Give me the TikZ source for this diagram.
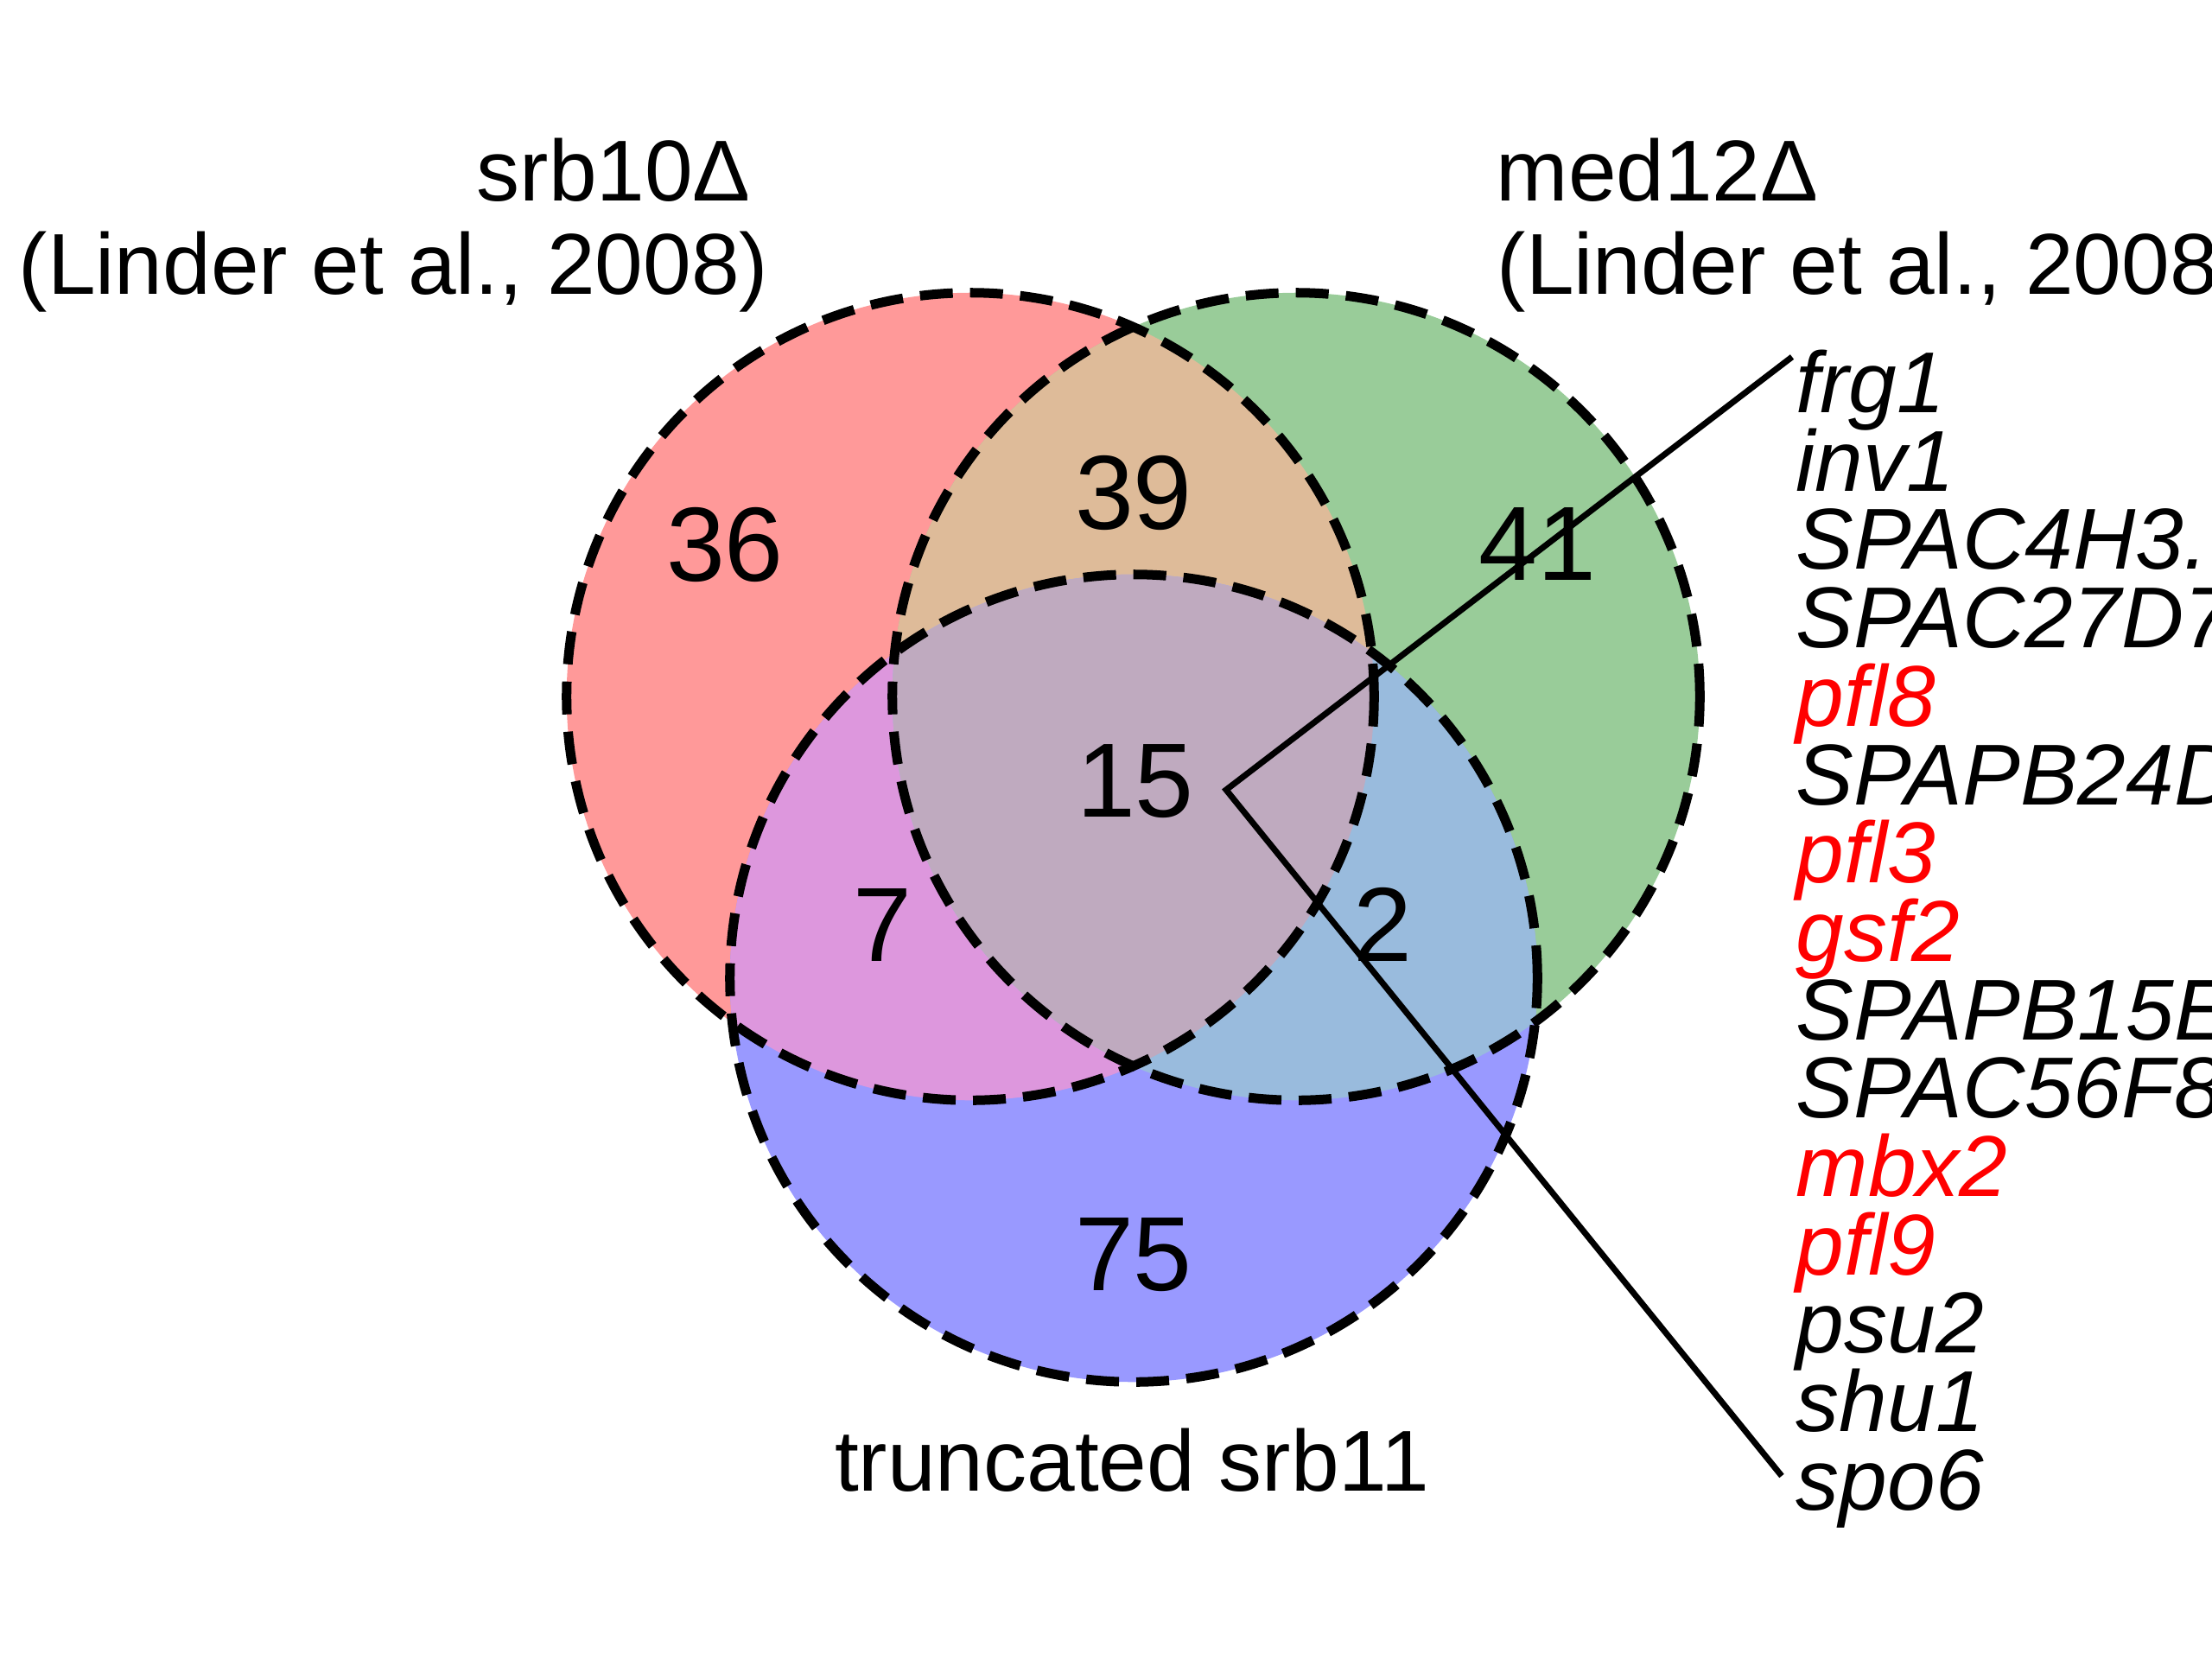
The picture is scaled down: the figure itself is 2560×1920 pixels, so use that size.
\documentclass[tikz,border=0pt]{standalone}
\usepackage{fontspec}
\setmainfont{Liberation Sans}
\usetikzlibrary{positioning}

\definecolor{setA}{HTML}{FF9999}
\definecolor{setB}{HTML}{99CC99}
\definecolor{setC}{HTML}{9999FF}
\definecolor{setAB}{HTML}{DEBB99}
\definecolor{setAC}{HTML}{DD97DD}
\definecolor{setBC}{HTML}{99BBDD}
\definecolor{setABC}{HTML}{BFAABF}
\def\rad{4.67cm}

\tikzset{
	ring/.style={line width=0.11cm, dash pattern=on 0.38cm off 0.2cm},
	count/.style={font=\fontsize{34.7}{40}\selectfont},
	setname/.style={font=\fontsize{28.45}{32}\selectfont, inner sep=0pt, anchor=base west},
	gene/.style={font=\fontsize{28.45}{32}\selectfont\itshape, inner sep=0pt, anchor=base west},
	link/.style={line width=0.07cm}
}

\begin{document}
\begin{tikzpicture}[x=0.01cm, y=0.01cm]
			%%%%% START %%%%%
			\useasboundingbox (0, 0) rectangle (2560, -1920);
			
			\coordinate (A) at (1123, -806);
			\coordinate (B) at (1500, -806);
			\coordinate (C) at (1312, -1132);
			
			\fill[setA] (A) circle (\rad);
			\fill[setB] (B) circle (\rad);
			\fill[setC] (C) circle (\rad);
			\begin{scope}
				\clip (A) circle (\rad);
				\fill[setAB] (B) circle (\rad);
				\fill[setAC] (C) circle (\rad);
			\end{scope}
			\begin{scope}
				\clip (B) circle (\rad);
				\fill[setBC] (C) circle (\rad);
			\end{scope}
			\begin{scope}
				\clip (A) circle (\rad);
				\clip (B) circle (\rad);
				\fill[setABC] (C) circle (\rad);
			\end{scope}
			
			\draw[ring] (A) circle (\rad);
			\draw[ring] (B) circle (\rad);
			\draw[ring] (C) circle (\rad);
			
			\node[count] (nA) at (839, -630) {36};
			\node[count] (nAB) at (1312, -570) {39};
			\node[count] (nB) at (1779, -630) {41};
			\node[count] (nABC) at (1314, -904) {15};
			\node[count] (nAC) at (1021, -1070) {7};
			\node[count] (nBC) at (1600, -1070) {2};
			\node[count] (nC) at (1312, -1452) {75};
			
			\node[setname] (titleA) at (551, -232) {srb10Δ};
			\node[setname] (citeA) at (21, -340) {(Linder et al., 2008)};
			\node[setname] (titleB) at (1731, -232) {med12Δ};
			\node[setname] (citeB) at (1732, -340) {(Linder et al., 2008)};
			\node[setname, anchor=base] (titleC) at (1310, -1725) {truncated srb11};
			
			\node[gene] (g1) at (2078, -477) {frg1};
			\node[gene] (g2) at (2078, -568) {inv1};
			\node[gene] (g3) at (2078, -658) {SPAC4H3.};
			\node[gene] (g4) at (2078, -749) {SPAC27D7};
			\node[gene, red] (g5) at (2078, -840) {pfl8};
			\node[gene] (g6) at (2078, -931) {SPAPB24D};
			\node[gene, red] (g7) at (2078, -1021) {pfl3};
			\node[gene, red] (g8) at (2078, -1112) {gsf2};
			\node[gene] (g9) at (2078, -1203) {SPAPB15E};
			\node[gene] (g10) at (2078, -1293) {SPAC56F8};
			\node[gene, red] (g11) at (2078, -1384) {mbx2};
			\node[gene, red] (g12) at (2078, -1475) {pfl9};
			\node[gene] (g13) at (2078, -1565) {psu2};
			\node[gene] (g14) at (2078, -1656) {shu1};
			\node[gene] (g15) at (2078, -1747) {spo6};
			
			\coordinate (hub) at (1419, -914);
			\coordinate (listtop) at (2074, -413);
			\coordinate (listend) at (2062, -1708);
			\draw[link] (listtop) -- (hub) -- (listend);
			%%%%% END %%%%%
\end{tikzpicture}
\end{document}
